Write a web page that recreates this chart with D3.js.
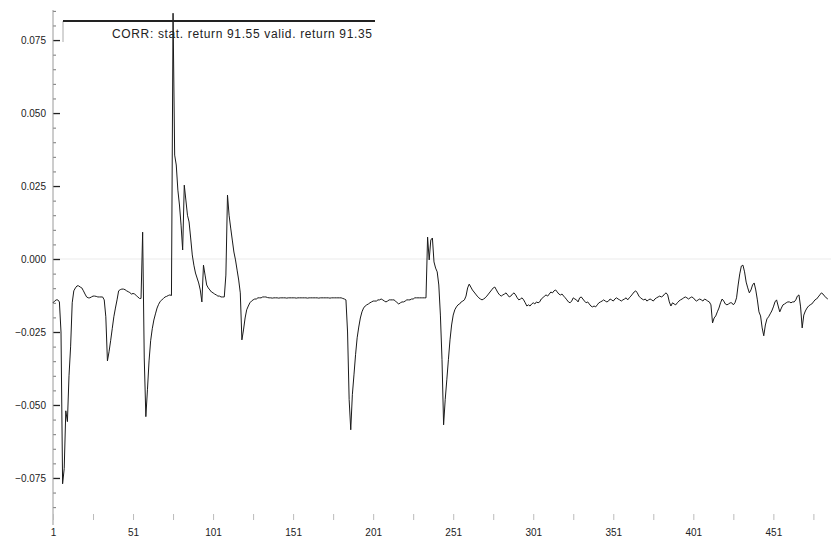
<!DOCTYPE html>
<html>
<head>
<meta charset="utf-8">
<script src="https://cdn.jsdelivr.net/npm/d3@7"></script>
<style>
  body { margin: 0; background: #fff; }
  text { font-family: "Liberation Sans", Arial, sans-serif; }
</style>
</head>
<body>
<div id="corr-chart"></div>
<script>
var legendLabel = "CORR: stat. return 91.55 valid. return 91.35";
var yTickValues = [-0.075, -0.050, -0.025, 0.000, 0.025, 0.050, 0.075];
var xTickLabels = [1, 51, 101, 151, 201, 251, 301, 351, 401, 451];

// correlation difference per step
var corrValues = [
  -0.0150, -0.0144, -0.0140, -0.0140, -0.0147, -0.0250, -0.0770, -0.0718, -0.0520, -0.0557,
  -0.0400, -0.0301, -0.0150, -0.0109, -0.0099, -0.0092, -0.0092, -0.0096, -0.0099, -0.0109,
  -0.0120, -0.0130, -0.0133, -0.0133, -0.0130, -0.0127, -0.0127, -0.0128, -0.0130, -0.0130,
  -0.0130, -0.0130, -0.0140, -0.0198, -0.0349, -0.0318, -0.0280, -0.0239, -0.0198, -0.0168,
  -0.0140, -0.0109, -0.0105, -0.0103, -0.0103, -0.0105, -0.0109, -0.0112, -0.0115, -0.0120,
  -0.0118, -0.0120, -0.0125, -0.0130, -0.0135, -0.0135, 0.0092, -0.0339, -0.0540, -0.0448,
  -0.0349, -0.0280, -0.0239, -0.0209, -0.0188, -0.0168, -0.0155, -0.0145, -0.0140, -0.0135,
  -0.0130, -0.0128, -0.0125, -0.0123, -0.0125, 0.0842, 0.0356, 0.0322, 0.0236, 0.0185,
  0.0116, 0.0031, 0.0253, 0.0202, 0.0150, 0.0127, 0.0072, 0.0014, -0.0021, -0.0048,
  -0.0065, -0.0082, -0.0106, -0.0147, -0.0021, -0.0055, -0.0089, -0.0099, -0.0106, -0.0113,
  -0.0116, -0.0120, -0.0123, -0.0127, -0.0127, -0.0130, -0.0130, -0.0130, -0.0055, 0.0219,
  0.0150, 0.0106, 0.0065, 0.0024, -0.0003, -0.0038, -0.0072, -0.0116, -0.0277, -0.0243,
  -0.0202, -0.0174, -0.0161, -0.0150, -0.0144, -0.0140, -0.0137, -0.0137, -0.0133, -0.0133,
  -0.0133, -0.0130, -0.0130, -0.0130, -0.0132, -0.0133, -0.0133, -0.0134, -0.0133, -0.0133,
  -0.0133, -0.0134, -0.0133, -0.0133, -0.0133, -0.0133, -0.0134, -0.0133, -0.0133, -0.0133,
  -0.0133, -0.0133, -0.0134, -0.0133, -0.0133, -0.0133, -0.0133, -0.0133, -0.0133, -0.0134,
  -0.0133, -0.0133, -0.0133, -0.0133, -0.0133, -0.0133, -0.0134, -0.0133, -0.0133, -0.0133,
  -0.0133, -0.0133, -0.0133, -0.0134, -0.0133, -0.0133, -0.0133, -0.0133, -0.0133, -0.0133,
  -0.0133, -0.0135, -0.0137, -0.0140, -0.0250, -0.0482, -0.0585, -0.0465, -0.0397, -0.0328,
  -0.0270, -0.0233, -0.0202, -0.0181, -0.0168, -0.0161, -0.0157, -0.0154, -0.0150, -0.0147,
  -0.0144, -0.0144, -0.0144, -0.0140, -0.0140, -0.0137, -0.0140, -0.0144, -0.0147, -0.0144,
  -0.0140, -0.0140, -0.0140, -0.0140, -0.0144, -0.0150, -0.0154, -0.0150, -0.0147, -0.0147,
  -0.0144, -0.0140, -0.0140, -0.0140, -0.0137, -0.0137, -0.0133, -0.0133, -0.0133, -0.0133,
  -0.0133, -0.0133, -0.0133, -0.0133, 0.0075, -0.0003, 0.0065, 0.0072, -0.0010, -0.0031,
  -0.0044, -0.0089, -0.0192, -0.0345, -0.0568, -0.0482, -0.0414, -0.0345, -0.0277, -0.0226,
  -0.0192, -0.0174, -0.0164, -0.0157, -0.0154, -0.0147, -0.0144, -0.0140, -0.0127, -0.0099,
  -0.0086, -0.0096, -0.0106, -0.0113, -0.0120, -0.0127, -0.0133, -0.0137, -0.0140, -0.0137,
  -0.0133, -0.0127, -0.0120, -0.0113, -0.0106, -0.0099, -0.0096, -0.0106, -0.0116, -0.0123,
  -0.0127, -0.0123, -0.0120, -0.0116, -0.0123, -0.0130, -0.0127, -0.0120, -0.0116, -0.0123,
  -0.0133, -0.0140, -0.0137, -0.0133, -0.0140, -0.0150, -0.0161, -0.0157, -0.0161, -0.0154,
  -0.0150, -0.0154, -0.0147, -0.0150, -0.0147, -0.0137, -0.0133, -0.0127, -0.0123, -0.0127,
  -0.0120, -0.0113, -0.0116, -0.0109, -0.0106, -0.0113, -0.0120, -0.0123, -0.0120, -0.0127,
  -0.0133, -0.0140, -0.0147, -0.0150, -0.0144, -0.0133, -0.0137, -0.0140, -0.0147, -0.0133,
  -0.0130, -0.0137, -0.0144, -0.0150, -0.0147, -0.0154, -0.0161, -0.0164, -0.0161, -0.0164,
  -0.0157, -0.0150, -0.0147, -0.0144, -0.0140, -0.0144, -0.0147, -0.0144, -0.0137, -0.0140,
  -0.0144, -0.0137, -0.0133, -0.0137, -0.0140, -0.0144, -0.0140, -0.0137, -0.0133, -0.0140,
  -0.0133, -0.0127, -0.0120, -0.0113, -0.0109, -0.0116, -0.0127, -0.0133, -0.0137, -0.0140,
  -0.0137, -0.0144, -0.0140, -0.0137, -0.0140, -0.0144, -0.0137, -0.0133, -0.0130, -0.0127,
  -0.0130, -0.0127, -0.0120, -0.0116, -0.0123, -0.0147, -0.0161, -0.0150, -0.0154, -0.0157,
  -0.0150, -0.0144, -0.0140, -0.0137, -0.0133, -0.0130, -0.0133, -0.0137, -0.0133, -0.0130,
  -0.0133, -0.0140, -0.0144, -0.0140, -0.0137, -0.0140, -0.0144, -0.0137, -0.0140, -0.0144,
  -0.0147, -0.0157, -0.0219, -0.0202, -0.0195, -0.0181, -0.0168, -0.0150, -0.0137, -0.0144,
  -0.0154, -0.0157, -0.0154, -0.0150, -0.0150, -0.0157, -0.0150, -0.0133, -0.0089, -0.0051,
  -0.0024, -0.0021, -0.0044, -0.0079, -0.0099, -0.0116, -0.0106, -0.0089, -0.0082, -0.0106,
  -0.0140, -0.0181, -0.0195, -0.0236, -0.0263, -0.0226, -0.0205, -0.0198, -0.0188, -0.0178,
  -0.0164, -0.0147, -0.0140, -0.0161, -0.0181, -0.0168, -0.0157, -0.0154, -0.0150, -0.0147,
  -0.0147, -0.0150, -0.0147, -0.0147, -0.0140, -0.0127, -0.0123, -0.0164, -0.0236, -0.0192,
  -0.0178, -0.0168, -0.0161, -0.0157, -0.0154, -0.0147, -0.0140, -0.0137, -0.0130, -0.0123,
  -0.0116, -0.0120, -0.0127, -0.0133, -0.0137
];

var W = 831, H = 538,
    margin = { top: 10, right: 0, bottom: 18, left: 53 },
    width = W - margin.left - margin.right,
    height = H - margin.top - margin.bottom;

var data = corrValues.map(function(v, i) { return { step: i + 1, value: v }; });

var xScale = d3.scaleLinear().domain([1, 487]).range([0, width]);
var yScale = d3.scaleLinear().domain([-0.0894, 0.0853]).range([height, 0]);

var svg = d3.select("#corr-chart").append("svg")
    .attr("width", W)
    .attr("height", H)
    .append("g")
    .attr("transform", "translate(" + margin.left + "," + margin.top + ")");

// faint zero line
svg.append("line")
    .attr("x1", 0).attr("x2", width)
    .attr("y1", yScale(0)).attr("y2", yScale(0))
    .attr("stroke", "#ebebeb");

// y axis: minor ticks then major ticks
var yMinor = d3.axisRight(yScale)
    .tickValues(d3.range(-0.085, 0.0851, 0.005))
    .tickSize(3).tickFormat("");
svg.append("g").attr("class", "y minor").call(yMinor)
    .call(function(g) { g.select(".domain").remove(); })
    .selectAll("line").attr("stroke", "#777");

var yAxis = d3.axisLeft(yScale)
    .tickValues(yTickValues)
    .tickSize(0).tickPadding(7)
    .tickFormat(d3.format(".3f"));
var gy = svg.append("g").attr("class", "y axis").call(yAxis);
gy.select(".domain").remove();
gy.selectAll("text").style("font-size", "10px").attr("fill", "#222");
gy.selectAll(".tick").append("line")
    .attr("x1", 0).attr("x2", 7)
    .attr("stroke", "#222").attr("stroke-width", 1.3);

svg.append("line")
    .attr("x1", 0).attr("x2", 0)
    .attr("y1", 0).attr("y2", height + 5)
    .attr("stroke", "#9a9a9a");

// x axis: ticks every 25 steps, labels every 50
var xAxis = d3.axisBottom(xScale)
    .tickValues(d3.range(1, 487, 25))
    .tickSize(6).tickPadding(9)
    .tickFormat(function(d) { return xTickLabels.indexOf(d) >= 0 ? d : ""; });
var gx = svg.append("g")
    .attr("class", "x axis")
    .attr("transform", "translate(0," + (height - 6) + ")")
    .call(xAxis);
gx.select(".domain").remove();
gx.selectAll("line").attr("stroke", "#bbb");
gx.selectAll("text").style("font-size", "10px").attr("fill", "#222");

// the series
var line = d3.line()
    .x(function(d) { return xScale(d.step); })
    .y(function(d) { return yScale(d.value); });

svg.append("path")
    .datum(data)
    .attr("fill", "none")
    .attr("stroke", "#1a1a1a")
    .attr("stroke-width", 1)
    .attr("d", line);

// legend
var legend = svg.append("g").attr("transform", "translate(10,11)");
legend.append("line")
    .attr("x1", 0).attr("x2", 0).attr("y1", 0).attr("y2", 21)
    .attr("stroke", "#aaa");
legend.append("line")
    .attr("x1", 0).attr("x2", 312).attr("y1", 0).attr("y2", 0)
    .attr("stroke", "#222").attr("stroke-width", 2);
legend.append("text")
    .attr("x", 49).attr("y", 17)
    .attr("textLength", 260)
    .attr("lengthAdjust", "spacing")
    .style("font-size", "12px")
    .attr("fill", "#222")
    .text(legendLabel);
</script>
</body>
</html>
